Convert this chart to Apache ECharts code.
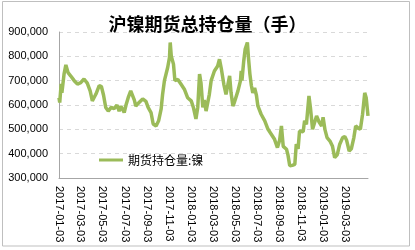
<!DOCTYPE html>
<html><head><meta charset="utf-8">
<script src="https://cdn.jsdelivr.net/npm/echarts@6/dist/echarts.min.js"></script>
<style>html,body{margin:0;padding:0;background:#fff}#c{width:415px;height:250px}</style>
</head><body><div id="c"></div>
<script>
var titleText = '沪镍期货总持仓量（手）';
var seriesName = '期货持仓量:镍';
var axisStart = '2017-01-03';
var axisEnd = '2019-05-06';
var yTicks = [300000, 400000, 500000, 600000, 700000, 800000, 900000];
var tickLabels = ['2017-01-03','2017-03-03','2017-05-03','2017-07-03','2017-09-03','2017-11-03','2018-01-03',
  '2018-03-03','2018-05-03','2018-07-03','2018-09-03','2018-11-03','2019-01-03','2019-03-03'];

var pointDates = [
'2017-01-03','2017-01-05','2017-01-09','2017-01-11','2017-01-17','2017-01-22','2017-01-28','2017-02-04','2017-02-14','2017-02-23',
'2017-03-04','2017-03-13','2017-03-18','2017-03-22','2017-03-30','2017-04-05','2017-04-10','2017-04-15','2017-04-24','2017-04-30',
'2017-05-06','2017-05-12','2017-05-19','2017-05-27','2017-06-04','2017-06-12','2017-06-18','2017-06-23','2017-07-02','2017-07-07',
'2017-07-13','2017-07-20','2017-07-30','2017-08-03','2017-08-12','2017-08-22','2017-08-31','2017-09-06','2017-09-14','2017-09-20',
'2017-09-28','2017-10-05','2017-10-12','2017-10-16','2017-10-21','2017-10-25','2017-10-30','2017-11-04','2017-11-06','2017-11-09',
'2017-11-15','2017-11-19','2017-11-27','2017-12-06','2017-12-15','2017-12-24','2018-01-03','2018-01-09','2018-01-16','2018-01-21',
'2018-01-26','2018-01-30','2018-02-04','2018-02-08','2018-02-13','2018-02-22','2018-02-27','2018-03-08','2018-03-17','2018-03-22',
'2018-03-27','2018-04-03','2018-04-09','2018-04-14','2018-04-19','2018-04-23','2018-04-28','2018-05-02','2018-05-12','2018-05-19',
'2018-05-21','2018-05-23','2018-05-28','2018-06-01','2018-06-07','2018-06-10','2018-06-14','2018-06-18','2018-06-22','2018-06-27',
'2018-07-02','2018-07-06','2018-07-15','2018-07-25','2018-08-03','2018-08-12','2018-08-21','2018-08-29','2018-09-04','2018-09-09',
'2018-09-14','2018-09-23','2018-09-27','2018-10-02','2018-10-09','2018-10-16','2018-10-20','2018-10-25','2018-10-29','2018-11-03',
'2018-11-08','2018-11-12','2018-11-17','2018-11-24','2018-11-28','2018-12-04','2018-12-10','2018-12-15','2018-12-22','2018-12-29',
'2019-01-02','2019-01-07','2019-01-13','2019-01-21','2019-01-28','2019-02-03','2019-02-10','2019-02-17','2019-02-25','2019-03-03',
'2019-03-08','2019-03-15','2019-03-21','2019-03-28','2019-04-02','2019-04-09','2019-04-15','2019-04-21','2019-04-27','2019-05-01',
'2019-05-06'
];
var pointValues = [
630000,610000,687000,650000,728000,765000,733000,720000,700000,686000,
692000,707000,715000,690000,658000,617000,625000,645000,680000,676000,
640000,590000,575000,590000,585000,600000,575000,595000,569000,600000,
630000,658000,620000,596000,610000,625000,615000,590000,569000,522000,
514000,535000,584000,644000,700000,695000,754000,795000,857000,800000,
768000,700000,705000,685000,665000,630000,617000,590000,543000,590000,
727000,690000,590000,620000,575000,644000,700000,740000,760000,788000,
750000,685000,644000,640000,720000,650000,596000,610000,658000,700000,
740000,700000,781000,830000,857000,795000,727000,680000,650000,670000,
640000,596000,562000,535000,500000,480000,459000,425000,455000,514000,
430000,418000,395000,350000,352000,356000,439000,420000,493000,500000,
490000,535000,520000,637000,590000,500000,530000,555000,530000,514000,
550000,500000,466000,452000,430000,384000,395000,439000,466000,470000,
455000,411000,420000,466000,514000,505000,500000,562000,650000,630000,
555000
];

function pad(n){return n<10?'0'+n:''+n;}
var categories = [];
(function(){
  var d = new Date(axisStart + 'T00:00:00Z'), e = new Date(axisEnd + 'T00:00:00Z');
  while (d <= e) {
    categories.push(d.getUTCFullYear() + '-' + pad(d.getUTCMonth()+1) + '-' + pad(d.getUTCDate()));
    d.setUTCDate(d.getUTCDate()+1);
  }
})();
var seriesData = pointDates.map(function(dt, i){ return [dt, pointValues[i]]; });

var chart = echarts.init(document.getElementById('c'), null, {renderer:'canvas'});
chart.setOption({
  animation: false,
  backgroundColor: '#fff',
  title: {
    text: titleText, left: 'center', top: 10,
    textStyle: {fontFamily: 'Noto Sans CJK SC', fontSize: 18, fontWeight: 'bold', color: '#000'}
  },
  graphic: [{
    type: 'rect', silent: true,
    shape: {x: 2.5, y: 1.5, width: 407, height: 244.5},
    style: {fill: 'none', stroke: '#bfbfbf', lineWidth: 1}
  }],
  legend: {
    data: [seriesName], left: 94, top: 149, icon: 'rect', itemWidth: 24, itemHeight: 3, itemGap: 4,
    textStyle: {fontFamily: 'Noto Sans CJK SC', fontSize: 12, color: '#000'}
  },
  grid: {left: 59, right: 47, top: 32, bottom: 72, containLabel: false},
  xAxis: {
    type: 'category', data: categories, boundaryGap: false,
    axisLine: {show: true, lineStyle: {color: '#a6a6a6', width: 1}},
    axisTick: {show: false},
    splitLine: {show: false},
    axisLabel: {
      rotate: -90, margin: 8, fontFamily: 'Liberation Sans', fontSize: 11, color: '#000',
      interval: function(idx, val){ return tickLabels.indexOf(val) >= 0; }
    }
  },
  yAxis: {
    type: 'value', min: yTicks[0], max: yTicks[yTicks.length-1], interval: 100000,
    axisLine: {show: true, lineStyle: {color: '#a6a6a6', width: 1}},
    axisTick: {show: false},
    splitLine: {show: true, lineStyle: {color: '#d9d9d9', type: [4, 4], width: 1}},
    axisLabel: {
      margin: 11, fontFamily: 'Liberation Sans', fontSize: 11, color: '#000',
      formatter: function(v){ return v.toLocaleString('en-US'); }
    }
  },
  series: [{
    name: seriesName, type: 'line', data: seriesData, symbol: 'none',
    lineStyle: {color: '#9bbb59', width: 3.5}, itemStyle: {color: '#9bbb59'}
  }]
});
</script></body></html>
